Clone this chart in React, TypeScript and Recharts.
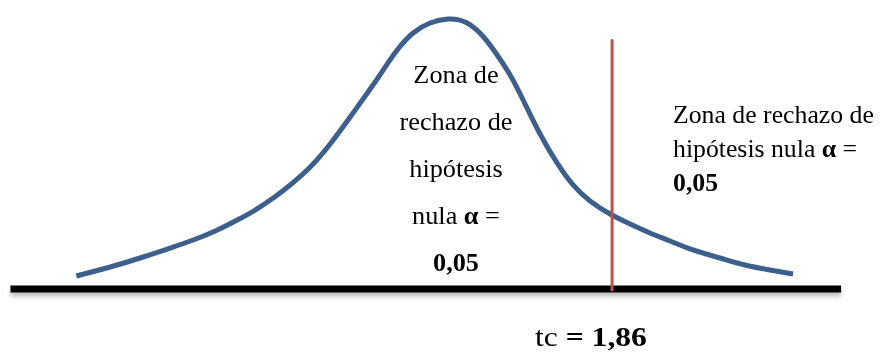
import { LineChart, Line, XAxis, YAxis, ReferenceLine } from 'recharts';

// t values along the axis and the curve height
const tValues = [
  -4.294, -3.904, -3.525, -3.215, -2.951, -2.698, -2.445, -2.239, -2.032, -1.837,
  -1.607, -1.378, -1.148, -0.918, -0.769, -0.608, -0.425, -0.23, -0.023, 0.184,
  0.379, 0.54, 0.689, 0.838, 1.033, 1.228, 1.412, 1.607, 1.837, 2.067,
  2.296, 2.526, 2.79, 3.1, 3.387, 3.674, 3.938,
];
const density = [
  0.0193, 0.0326, 0.0474, 0.0607, 0.0726, 0.0859, 0.1022, 0.117, 0.1348, 0.1541,
  0.1807, 0.2148, 0.2548, 0.2963, 0.3244, 0.3541, 0.3793, 0.3941, 0.4, 0.3948,
  0.3741, 0.3467, 0.317, 0.28, 0.2296, 0.1867, 0.1541, 0.1304, 0.1111, 0.0963,
  0.083, 0.0711, 0.0578, 0.0459, 0.0356, 0.0281, 0.0222,
];

const tCritical = 1.86;
const criticalTop = 0.37;
const baselineRange = [-5.05, 4.49];

const centerLines = ['Zona de', 'rechazo de', 'hipótesis'];
const sideLines = ['Zona de rechazo de', 'hipótesis nula'];
const alphaValue = '0,05';
const tcLabel = '1,86';

const data = tValues.map((t, i) => ({ t, d: density[i] }));

const serif = '"Liberation Serif", "Times New Roman", serif';

export default function App() {
  return (
    <div style={{ position: 'absolute', left: 0, top: 0, width: 882, height: 358, background: '#fff' }}>
      <LineChart width={882} height={358} data={data} margin={{ top: 19, right: 0, bottom: 69, left: 0 }}>
        <XAxis type="number" dataKey="t" domain={[-5.17, 4.96]} hide />
        <YAxis type="number" domain={[0, 0.4]} hide />
        <ReferenceLine
          segment={[{ x: baselineRange[0], y: 0 }, { x: baselineRange[1], y: 0 }]}
          stroke="#000"
          strokeWidth={7}
          ifOverflow="visible"
          style={{ filter: 'drop-shadow(0px 4px 2px rgba(0,0,0,0.25))' }}
        />
        <Line
          type="natural"
          dataKey="d"
          stroke="#3d5f8c"
          strokeWidth={5}
          dot={false}
          activeDot={false}
          isAnimationActive={false}
        />
        <ReferenceLine
          segment={[{ x: tCritical, y: -0.003 }, { x: tCritical, y: criticalTop }]}
          stroke="#c0504d"
          strokeWidth={3}
          ifOverflow="visible"
        />
      </LineChart>

      <div
        style={{
          position: 'absolute', left: 356, top: 51, width: 200, textAlign: 'center',
          fontFamily: serif, fontSize: 25, lineHeight: '47px', color: '#000',
          transform: 'scaleX(1.05)', transformOrigin: '100px 0',
        }}
      >
        {centerLines.map((s) => (
          <div key={s}>{s}</div>
        ))}
        <div>nula <b>α</b> =</div>
        <div><b>{alphaValue}</b></div>
      </div>

      <div
        style={{
          position: 'absolute', left: 673, top: 98, whiteSpace: 'nowrap',
          fontFamily: serif, fontSize: 25, lineHeight: '34px', color: '#000',
          transform: 'scaleX(1.03)', transformOrigin: '0 0',
        }}
      >
        <div>{sideLines[0]}</div>
        <div>{sideLines[1]} <b>α</b> =</div>
        <div><b>{alphaValue}</b></div>
      </div>

      <div
        style={{
          position: 'absolute', left: 535, top: 324, whiteSpace: 'nowrap',
          fontFamily: serif, fontSize: 27, lineHeight: 1, color: '#000',
          transform: 'scaleX(1.17)', transformOrigin: '0 0',
        }}
      >
        tc <b>= {tcLabel}</b>
      </div>
    </div>
  );
}
